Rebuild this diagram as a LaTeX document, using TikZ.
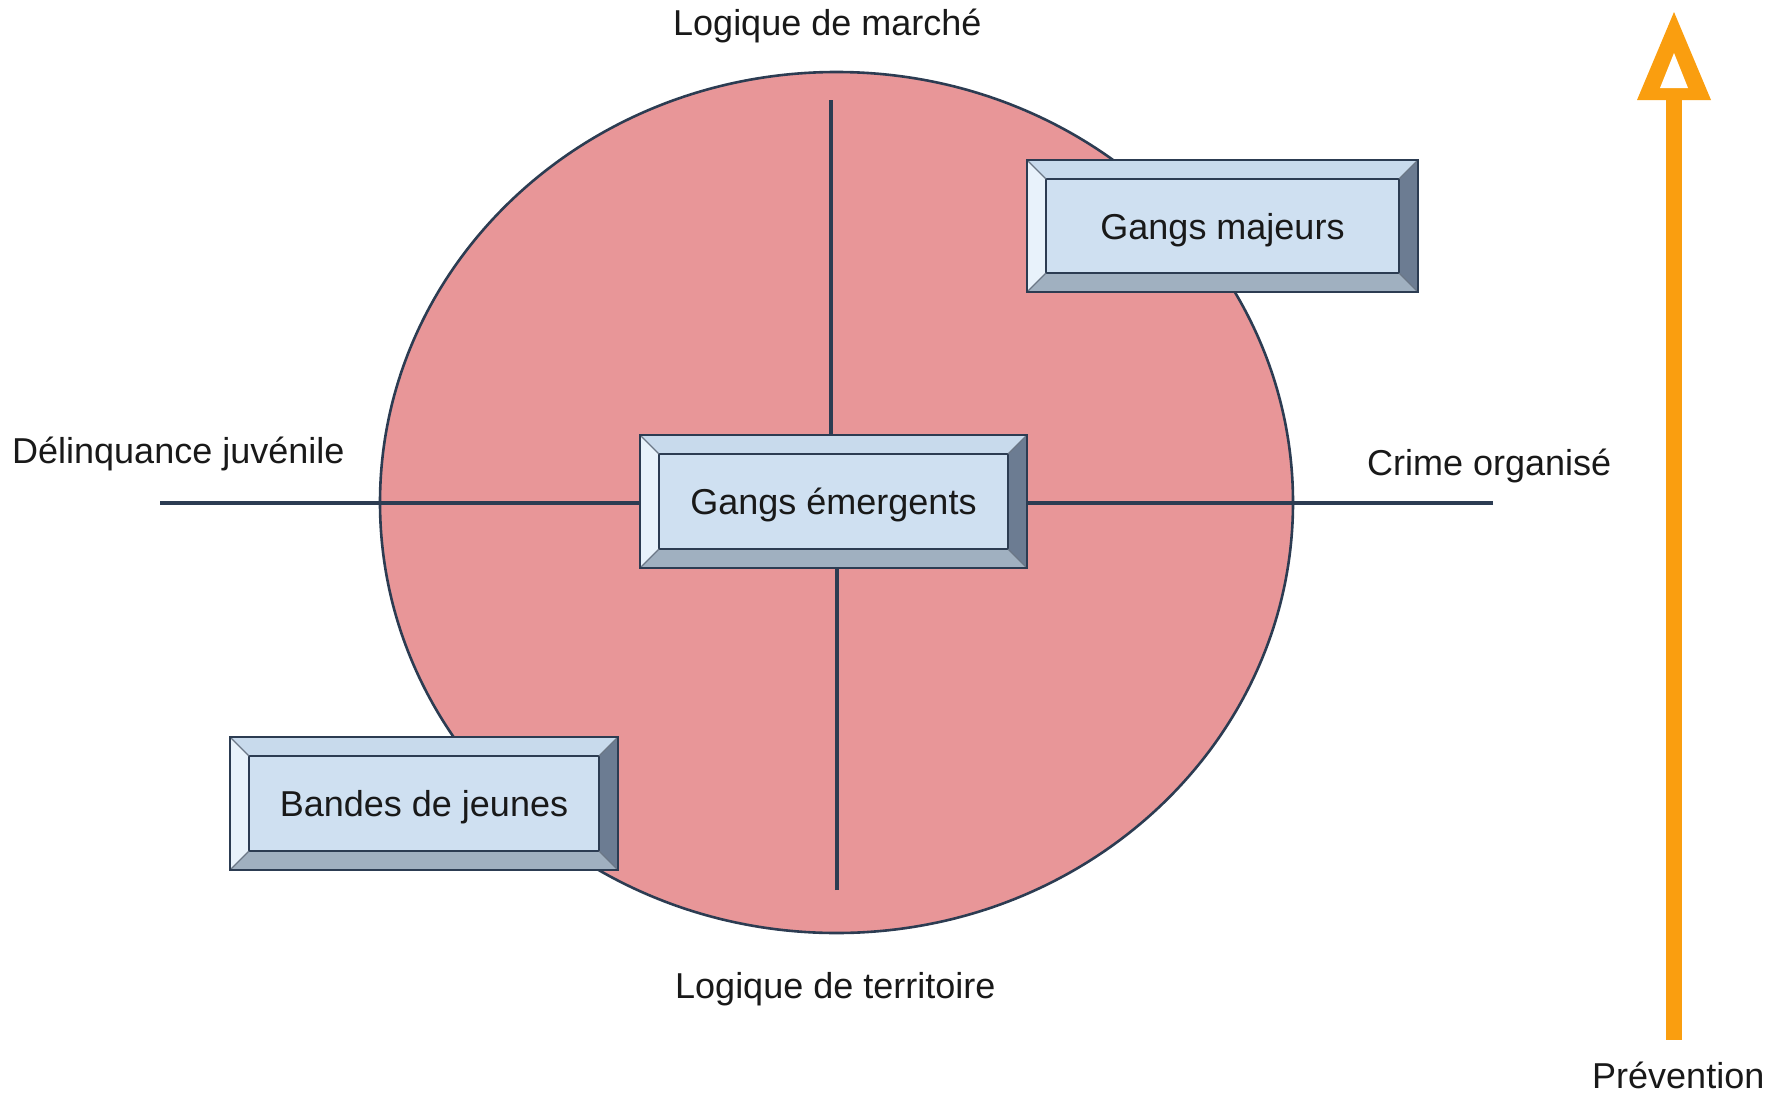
\documentclass[tikz,border=0pt]{standalone}
\usepackage{fontspec}
\setmainfont{Liberation Sans}
\usetikzlibrary{shapes.geometric}
\definecolor{disk}{RGB}{232,150,152}
\definecolor{ink}{RGB}{44,60,82}
\definecolor{face}{RGB}{207,224,241}
\definecolor{bvtop}{RGB}{200,218,236}
\definecolor{bvleft}{RGB}{232,242,251}
\definecolor{bvright}{RGB}{108,124,146}
\definecolor{bvbot}{RGB}{160,176,192}
\definecolor{prev}{RGB}{250,158,15}
\tikzset{
  lbl/.style={font=\fontsize{36}{40}\selectfont, anchor=base west, inner sep=0pt, text=black!90},
  axis/.style={draw=ink, line width=3.2pt},
  bevelbox/.style={draw=ink, line width=2.5pt, fill=face, inner sep=0pt,
    font=\fontsize{36}{40}\selectfont, text=black!90,
    text height=26pt, text depth=0pt,
    path picture={
      \def\bw{19pt}
      \fill[bvtop] (path picture bounding box.north west) -- (path picture bounding box.north east)
        -- ([shift={(-\bw,-\bw)}]path picture bounding box.north east)
        -- ([shift={(\bw,-\bw)}]path picture bounding box.north west) -- cycle;
      \fill[bvleft] (path picture bounding box.north west) -- (path picture bounding box.south west)
        -- ([shift={(\bw,\bw)}]path picture bounding box.south west)
        -- ([shift={(\bw,-\bw)}]path picture bounding box.north west) -- cycle;
      \fill[bvright] (path picture bounding box.north east) -- (path picture bounding box.south east)
        -- ([shift={(-\bw,\bw)}]path picture bounding box.south east)
        -- ([shift={(-\bw,-\bw)}]path picture bounding box.north east) -- cycle;
      \fill[bvbot] (path picture bounding box.south west) -- (path picture bounding box.south east)
        -- ([shift={(-\bw,\bw)}]path picture bounding box.south east)
        -- ([shift={(\bw,\bw)}]path picture bounding box.south west) -- cycle;
      \draw[ink, line width=2.2pt] ([shift={(\bw,\bw)}]path picture bounding box.south west)
        rectangle ([shift={(-\bw,-\bw)}]path picture bounding box.north east);
      \draw[ink!70, line width=1.2pt] (path picture bounding box.north west) -- ([shift={(\bw,-\bw)}]path picture bounding box.north west);
      \draw[ink!70, line width=1.2pt] (path picture bounding box.north east) -- ([shift={(-\bw,-\bw)}]path picture bounding box.north east);
      \draw[ink!70, line width=1.2pt] (path picture bounding box.south west) -- ([shift={(\bw,\bw)}]path picture bounding box.south west);
      \draw[ink!70, line width=1.2pt] (path picture bounding box.south east) -- ([shift={(-\bw,\bw)}]path picture bounding box.south east);
    }}
}
\begin{document}
\begin{tikzpicture}[x=1pt,y=-1pt]
\useasboundingbox (0,0) rectangle (1781,1095);
% disk
\node (disk) [ellipse, draw=ink, line width=2.6pt, fill=disk, minimum width=913pt, minimum height=861pt, inner sep=0pt] at (836.5,502.5) {};
% boxes
\node (emerg) [bevelbox, minimum width=387pt, minimum height=133pt] at (833.5,501.5) {Gangs émergents};
\node (major) [bevelbox, minimum width=391pt, minimum height=132pt] at (1222.5,226) {Gangs majeurs};
\node (bandes) [bevelbox, minimum width=388pt, minimum height=133pt] at (424,803.5) {Bandes de jeunes};
% axis ends
\coordinate (atop) at (831,100);
\coordinate (abot) at (837,890);
\coordinate (alft) at (160,503);
\coordinate (argt) at (1493,503);
\draw[axis] (atop) -- (atop |- emerg.north);
\draw[axis] (abot) -- (abot |- emerg.south);
\draw[axis] (alft) -- (alft -| emerg.west);
\draw[axis] (argt) -- (argt -| emerg.east);
% labels
\node (lmarche) [lbl] at (673,35) {Logique de marché};
\node (lterr) [lbl] at (675,998) {Logique de territoire};
\node (ldelinq) [lbl] at (12,463) {Délinquance juvénile};
\node (lcrime) [lbl] at (1367,475) {Crime organisé};
\node (lprev) [lbl] at (1592,1088) {Prévention};
% prevention arrow
\fill[prev] (1666,98) rectangle (1682,1040);
\fill[prev] (1674,12) -- (1711,100) -- (1637,100) -- cycle;
\fill[white] (1674,53) -- (1688,88) -- (1660,88) -- cycle;
\end{tikzpicture}
\end{document}
